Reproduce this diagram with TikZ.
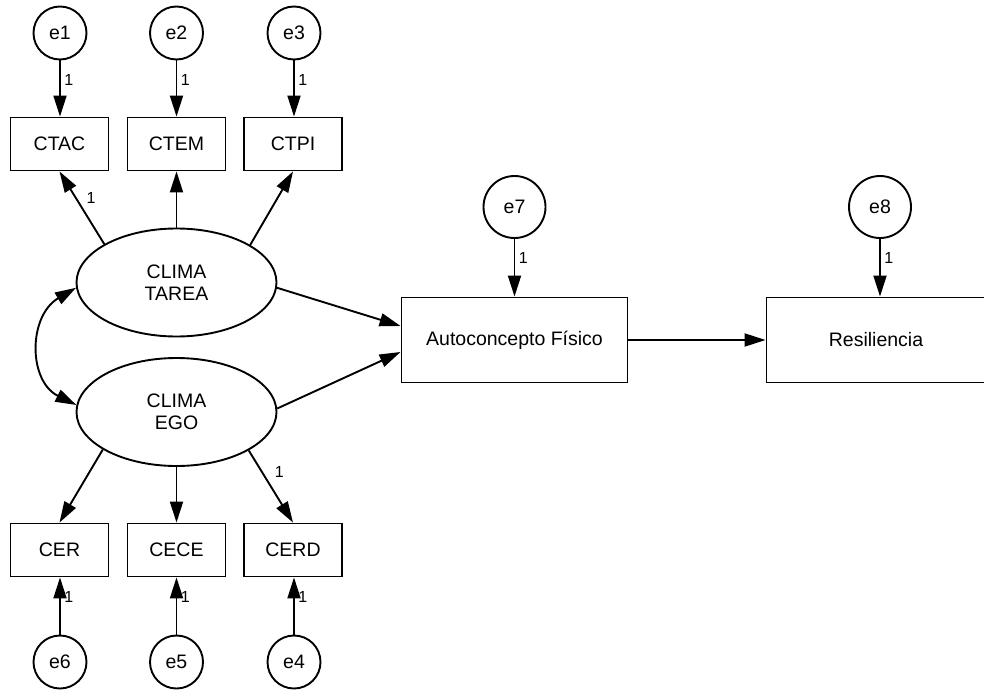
\documentclass[tikz,border=0pt]{standalone}
\usepackage{fontspec}
\setmainfont{Liberation Sans}
\usetikzlibrary{arrows.meta,shapes.geometric}
\begin{document}
\begin{tikzpicture}[x=1pt,y=-1pt,
  every node/.style={inner sep=0pt},
  line width=1.9pt,
  txt/.style={font=\fontsize{19.5}{22}\selectfont},
  err/.style={circle,draw,minimum size=53pt,txt},
  errbig/.style={circle,draw,minimum size=62pt,txt},
  obs/.style={rectangle,draw,minimum width=98pt,minimum height=53pt,txt},
  lat/.style={ellipse,draw,minimum width=200pt,minimum height=108pt,align=center,txt},
  bigbox/.style={rectangle,draw,minimum width=226pt,minimum height=85pt,txt},
  arr/.style={-{Triangle[length=21pt,width=13pt]}},
  biarr/.style={{Triangle[length=21pt,width=13pt]}-{Triangle[length=21pt,width=13pt]}},
  lbl/.style={font=\fontsize{16}{18}\selectfont}
]
\useasboundingbox (0,0) rectangle (984,690);
\fill[white] (0,0) rectangle (984,690);

% error terms
\node[err] (e1) at (60,33) {e1};
\node[err] (e2) at (176.5,33) {e2};
\node[err] (e3) at (294,33) {e3};
\node[err] (e6) at (60,662) {e6};
\node[err] (e5) at (176.5,662) {e5};
\node[err] (e4) at (294,662) {e4};
\node[errbig] (e7) at (514.5,207) {e7};
\node[errbig] (e8) at (880,207) {e8};

% indicators
\node[obs] (ctac) at (59.5,144) {CTAC};
\node[obs] (ctem) at (176.5,144) {CTEM};
\node[obs] (ctpi) at (293,144) {CTPI};
\node[obs] (cer) at (59.5,550) {CER};
\node[obs] (cece) at (176.5,550) {CECE};
\node[obs] (cerd) at (293,550) {CERD};

% latent
\node[lat] (tarea) at (176.5,282.5) {CLIMA\\TAREA};
\node[lat] (ego) at (176.5,412) {CLIMA\\EGO};

% outcomes
\node[bigbox] (auto) at (514.5,340) {Autoconcepto Físico};
\node[bigbox, minimum width=219pt] (resil) at (876,340) {Resiliencia};

% error arrows
\draw[arr] (e1.south) -- node[lbl,pos=0.35,right=3.5pt] {1} (e1.south |- ctac.north);
\draw[arr] (e2.south) -- node[lbl,pos=0.35,right=3.5pt] {1} (e2.south |- ctem.north);
\draw[arr] (e3.south) -- node[lbl,pos=0.35,right=3.5pt] {1} (e3.south |- ctpi.north);
\draw[arr] (e6.north) -- node[lbl,pos=0.66,right=3.5pt] {1} (e6.north |- cer.south);
\draw[arr] (e5.north) -- node[lbl,pos=0.66,right=3.5pt] {1} (e5.north |- cece.south);
\draw[arr] (e4.north) -- node[lbl,pos=0.66,right=3.5pt] {1} (e4.north |- cerd.south);
\draw[arr] (e7.south) -- node[lbl,pos=0.33,right=3.5pt] {1} (e7.south |- auto.north);
\draw[arr] (e8.south) -- node[lbl,pos=0.33,right=3.5pt] {1} (e8.south |- resil.north);

% loadings
\draw[arr] (tarea.152.7) -- node[lbl,pos=0.64,right=10pt] {1} (ctac.south);
\draw[arr] (tarea.north) -- (ctem.south);
\draw[arr] (tarea.27.9) -- (ctpi.south);
\draw[arr] (ego.207.6) -- (cer.north);
\draw[arr] (ego.south) -- (cece.north);
\draw[arr] (ego.332.4) -- node[lbl,pos=0.3,right=12pt] {1} (cerd.north);

% covariance
\draw[biarr] (tarea.183) .. controls (28,316) and (28,381) .. (ego.176);

% structural paths
\draw[arr] (tarea.-3) -- (auto.173.5);
\draw[arr] (ego.2.3) -- (auto.186);
\draw[arr] (auto.east) -- (resil.west);
\end{tikzpicture}
\end{document}
